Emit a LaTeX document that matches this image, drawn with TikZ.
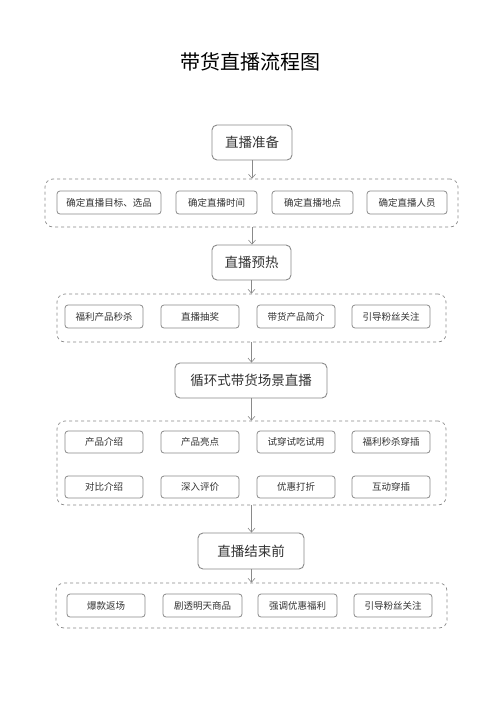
\documentclass[tikz,border=0pt]{standalone}
\usepackage{fontspec}
\setmainfont{Noto Sans CJK SC}
\usetikzlibrary{arrows.meta}
\definecolor{linegray}{HTML}{8A8A8A}
\definecolor{textgray}{HTML}{333333}
\tikzset{
  stagebox/.style={draw=linegray,line width=0.9pt,rounded corners=5pt,text=textgray,font=\fontsize{13.5}{15}\selectfont,minimum height=35pt,inner sep=0pt},
  itembox/.style={draw=linegray,line width=0.8pt,rounded corners=3pt,text=textgray,font=\fontsize{9.5}{11}\selectfont,minimum height=23pt,minimum width=78pt,inner sep=0pt},
  groupbox/.style={draw=linegray,line width=0.7pt,dashed,rounded corners=8pt,inner sep=0pt},
  flow/.style={draw=linegray,line width=0.6pt,-{Straight Barb[length=4pt,width=7pt]}}
}
\begin{document}
\begin{tikzpicture}[x=1pt,y=-1pt]
\useasboundingbox[fill=white] (0,0) rectangle (500,707);

\node[font=\fontsize{20}{22}\selectfont] (title) at (250,62) {带货直播流程图};

% stage 1
\node[stagebox,minimum width=80pt] (prep) at (252,142.5) {直播准备};
\node[groupbox,minimum width=413pt,minimum height=48pt] (prepgrp) at (251.5,203) {};
\node[itembox,minimum width=104pt] (prepa) at (109,202.5) {确定直播目标、选品};
\node[itembox,minimum width=81pt] (prepb) at (216.5,202.5) {确定直播时间};
\node[itembox,minimum width=81pt] (prepc) at (312.5,202.5) {确定直播地点};
\node[itembox,minimum width=80pt] (prepd) at (407,202.5) {确定直播人员};

% stage 2
\node[stagebox,minimum width=79pt] (warm) at (251.5,262.5) {直播预热};
\node[groupbox,minimum width=389pt,minimum height=48pt] (warmgrp) at (251.5,318) {};
\node[itembox] (warma) at (104,316.5) {福利产品秒杀};
\node[itembox] (warmb) at (200,316.5) {直播抽奖};
\node[itembox] (warmc) at (296,316.5) {带货产品简介};
\node[itembox] (warmd) at (391,316.5) {引导粉丝关注};

% stage 3
\node[stagebox,minimum width=152pt] (loop) at (251,380.5) {循环式带货场景直播};
\node[groupbox,minimum width=389pt,minimum height=84pt] (loopgrp) at (251.5,463) {};
\node[itembox,minimum height=22pt] (loopa) at (104,442) {产品介绍};
\node[itembox,minimum height=22pt] (loopb) at (200,442) {产品亮点};
\node[itembox,minimum height=22pt] (loopc) at (296,442) {试穿试吃试用};
\node[itembox,minimum height=22pt] (loopd) at (391,442) {福利秒杀穿插};
\node[itembox,minimum height=22pt] (loope) at (104,487) {对比介绍};
\node[itembox,minimum height=22pt] (loopf) at (200,487) {深入评价};
\node[itembox,minimum height=22pt] (loopg) at (296,487) {优惠打折};
\node[itembox,minimum height=22pt] (looph) at (391,487) {互动穿插};

% stage 4
\node[stagebox,minimum width=106pt,minimum height=36pt] (end) at (251,551) {直播结束前};
\node[groupbox,minimum width=391pt,minimum height=45pt] (endgrp) at (251.5,605.5) {};
\node[itembox] (enda) at (106,605.5) {爆款返场};
\node[itembox,minimum width=79pt] (endb) at (202.5,605.5) {剧透明天商品};
\node[itembox,minimum width=79pt] (endc) at (297.5,605.5) {强调优惠福利};
\node[itembox] (endd) at (393,605.5) {引导粉丝关注};

% connectors
\draw[flow] (prep.south) -- (prep.south |- prepgrp.north);
\draw[flow] (prep.south |- prepgrp.south) -- (prep.south |- warm.north);
\draw[flow] (warm.south) -- (warm.south |- warmgrp.north);
\draw[flow] (warm.south |- warmgrp.south) -- (warm.south |- loop.north);
\draw[flow] (warm.south |- loop.south) -- (warm.south |- loopgrp.north);
\draw[flow] (warm.south |- loopgrp.south) -- (warm.south |- end.north);
\draw[flow] (warm.south |- end.south) -- (warm.south |- endgrp.north);
\end{tikzpicture}
\end{document}
